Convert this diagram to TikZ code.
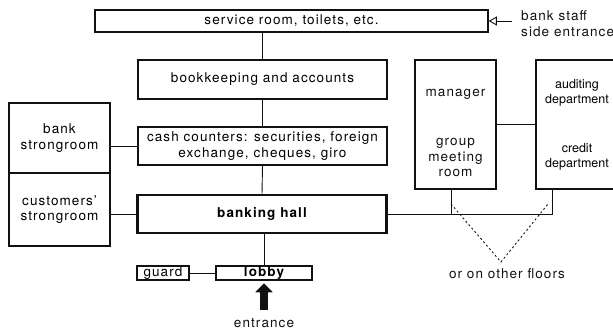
\documentclass[tikz,border=0pt]{standalone}
\usepackage{fontspec}
\setmainfont{TeX Gyre Heros}[LetterSpace=8]
\usepackage{xcolor}
\usepackage{tikz}
\usetikzlibrary{arrows.meta,positioning}
\definecolor{bkInk}{HTML}{111111}

\begin{document}
\begin{tikzpicture}[x=1pt,y=-1pt,
    room/.style={draw=bkInk,line width=1.5pt,inner sep=0pt,align=center,
                 font=\fontsize{13.5}{15.5}\selectfont},
    hallroom/.style={room,line width=2.6pt,font=\fontsize{13.5}{15.5}\selectfont\bfseries},
    tightroom/.style={room,font=\fontsize{12.5}{15}\selectfont\addfontfeature{LetterSpace=0}},
    lbl/.style={inner sep=0pt,align=center,text=bkInk,font=\fontsize{13.5}{15.5}\selectfont},
    wire/.style={draw=bkInk,line width=0.9pt},
    dots/.style={wire,dash pattern=on 2pt off 2.5pt}]
    \useasboundingbox (0,0) rectangle (613,331);
    \node[room,minimum width=393pt,minimum height=22pt] (service) at (291.5,21) {service room, toilets, etc.};
    \node[room,minimum width=249pt,minimum height=39pt] (books) at (262.5,79.5) {bookkeeping and accounts};
    \node[room,minimum width=249pt,minimum height=38pt] (cash) at (262.5,146)
        {cash counters: securities, foreign\\exchange, cheques, giro};
    \node[hallroom,minimum width=249pt,minimum height=38pt] (hall) at (262,214) {banking hall};
    \node[room,minimum width=101pt,minimum height=70pt] (bankvault) at (59.5,138) {bank\\strongroom};
    \node[room,minimum width=101pt,minimum height=73pt] (custvault) at (59.5,209.5) {customers'\\strongroom};
    \node[room,minimum width=81pt,minimum height=129pt] (manager) at (455.5,124.5) {};
    \node[lbl] (mgrlabel) at (455.5,133) {manager\\[33.5pt]group\\meeting\\room};
    \node[tightroom,minimum width=82pt,minimum height=129pt] (audit) at (577,124.5)
        {auditing\\department\\[34pt]credit\\department};
    \node[room,minimum width=52pt,minimum height=14pt] (guard) at (163,273) {guard};
    \node[hallroom,minimum width=96pt,minimum height=14pt] (lobby) at (264,273) {lobby};
    \node[lbl,anchor=west,align=left] (side) at (521,23.5) {bank staff\\side entrance};
    \node[lbl] (entry) at (264,323.5) {entrance};
    \node[lbl] (floors) at (507,274) {or on other floors};

    \coordinate (mfoot) at (451,189);
    \coordinate (afoot) at (552,189);
    \coordinate (mdot) at (451,204);
    \coordinate (adot) at (548,204);
    \coordinate (vtip) at (501,262);

    \draw[wire] (books.north |- service.south) -- (books.north);
    \draw[wire] (books.south) -- (cash.north);
    \draw[wire] (cash.south) -- (hall.north);
    \draw[wire] (lobby.north |- hall.south) -- (lobby.north);
    \draw[wire] (guard.east) -- (lobby.west);
    \draw[wire] (cash.west -| bankvault.east) -- (cash.west);
    \draw[wire] (hall.west -| custvault.east) -- (hall.west);
    \draw[wire] (manager.east) -- (audit.west);
    \draw[wire] (hall.east) -| (afoot);
    \draw[wire] (mfoot) -- (mfoot |- hall.east);
    \draw[dots] (mdot) -- (vtip) -- (adot);
    \draw[wire,shorten <=9pt,-{Triangle[open,length=8pt,width=9pt]}] (service.east -| side.west) -- (service.east);
    \draw[bkInk,line width=8pt,shorten <=9pt,shorten >=2pt,-{Triangle[length=9pt,width=17pt]}]
        (entry.north) -- (lobby.south);
\end{tikzpicture}
\end{document}
